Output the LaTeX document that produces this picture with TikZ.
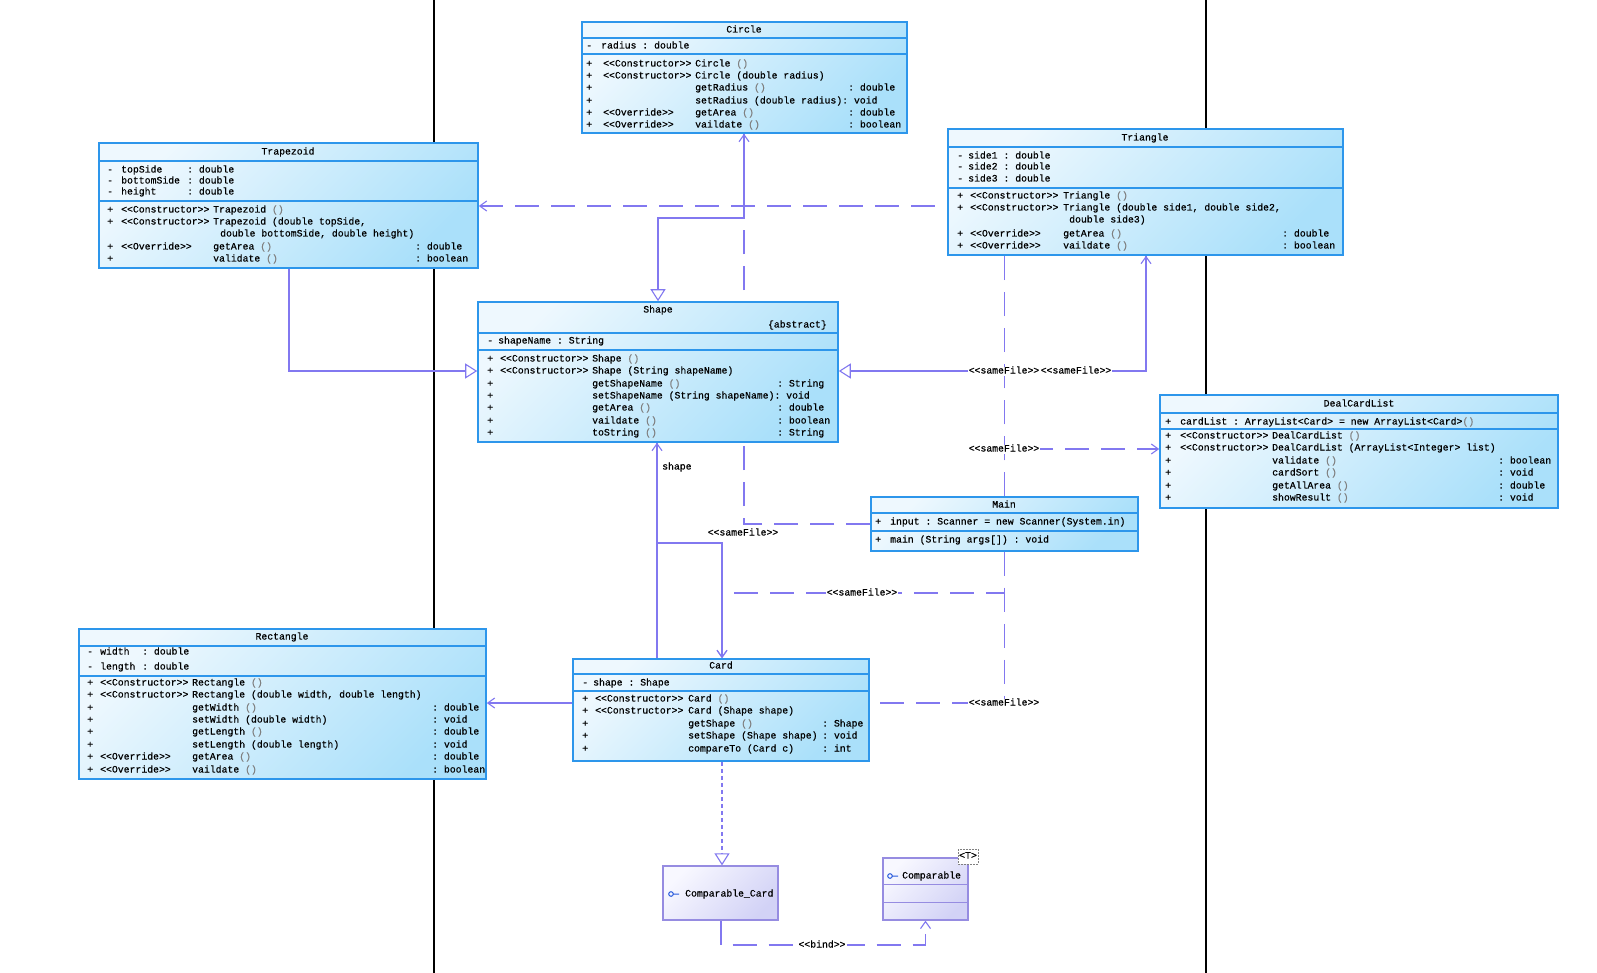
\documentclass[tikz,border=0pt]{standalone}
\usepackage{fontspec}
\setmonofont{Liberation Mono}[FakeBold=0.5]
\usetikzlibrary{arrows.meta,fit,calc}
\pgfdeclarelayer{bg}
\pgfsetlayers{bg,main}
\definecolor{bord}{RGB}{45,150,235}
\definecolor{fillA}{RGB}{238,248,254}
\definecolor{fillB}{RGB}{170,224,250}
\definecolor{conn}{RGB}{130,120,240}
\definecolor{lavB}{RGB}{150,140,225}
\definecolor{lavA}{RGB}{248,248,255}
\definecolor{lavC}{RGB}{210,210,246}
\definecolor{icon}{RGB}{40,90,220}
\newcounter{tn}
\newcommand\tx[3]{\stepcounter{tn}\node[txt,anchor=west] (t\arabic{tn}) at (#1,#2) {#3};}
\newcommand\tc[3]{\stepcounter{tn}\node[txt] (t\arabic{tn}) at (#1,#2) {#3};}
\newcommand\pp{\textcolor{gray}{()}}
\newcommand\cons{<<Constructor>>}
\newcommand\ovr{<<Override>>}
\newcommand\hsep[2]{\draw[sepline] (#1.west |- 0,#2) -- (#1.east |- 0,#2);}
\newcommand\mr[4]{\tx{\cP}{#1}{+}%
  \if\relax\detokenize{#2}\relax\else\tx{\cS}{#1}{#2}\fi
  \tx{\cN}{#1}{#3}%
  \if\relax\detokenize{#4}\relax\else\tx{\cT}{#1}{#4}\fi}
\begin{document}
\begin{tikzpicture}[x=1pt,y=-1pt,
  txt/.style={font=\ttfamily\fontsize{9.8}{12}\selectfont, inner sep=0pt, text height=7pt, text depth=2pt},
  cls/.style={draw=bord, line width=1.6pt, top color=fillA, bottom color=fillB, shading angle=45, inner sep=0pt},
  lav/.style={draw=lavB, line width=1.3pt, top color=lavA, bottom color=lavC, shading angle=45, inner sep=0pt},
  sepline/.style={draw=bord, line width=1.2pt},
  lavline/.style={draw=lavB, line width=1pt},
  cn/.style={draw=conn, line width=1.1pt},
  dep/.style={cn, dash pattern=on 24pt off 12pt},
  dotd/.style={cn, dash pattern=on 4pt off 3pt},
  open/.style={-{Straight Barb[length=7pt,width=10pt]}},
  gen/.style={-{Triangle[open,length=12pt,width=15pt,fill=white]}},
  lbl/.style={txt, fill=white, inner xsep=1pt},
]
\useasboundingbox (0,0) rectangle (1597,973);

% ---------------- Circle
\node[cls, fit={(582,22) (907,133)}] (circle) {};
\tc{744}{30}{Circle}
\hsep{circle}{38}\hsep{circle}{54}
\tx{586}{46}{-}\tx{601}{46}{radius : double}
\def\cP{586}\def\cS{603}\def\cN{695}\def\cT{848}
\mr{64}{\cons}{Circle \pp}{}
\mr{76}{\cons}{Circle (double radius)}{}
\mr{88}{}{getRadius \pp}{: double}
\mr{101}{}{setRadius (double radius): void}{}
\mr{113}{\ovr}{getArea \pp}{: double}
\mr{125}{\ovr}{vaildate \pp}{: boolean}

% ---------------- Trapezoid
\node[cls, fit={(99,143) (478,268)}] (trap) {};
\tc{288}{152}{Trapezoid}
\hsep{trap}{161}\hsep{trap}{201}
\tx{107}{170}{-}\tx{121}{170}{topSide}\tx{187}{170}{: double}
\tx{107}{181}{-}\tx{121}{181}{bottomSide}\tx{187}{181}{: double}
\tx{107}{192}{-}\tx{121}{192}{height}\tx{187}{192}{: double}
\def\cP{107}\def\cS{121}\def\cN{213}\def\cT{415}
\mr{210}{\cons}{Trapezoid \pp}{}
\mr{222}{\cons}{Trapezoid (double topSide,}{}
\tx{220}{234}{double bottomSide, double height)}
\mr{247}{\ovr}{getArea \pp}{: double}
\mr{259}{}{validate \pp}{: boolean}

% ---------------- Triangle
\node[cls, fit={(948,129) (1343,255)}] (tri) {};
\tc{1145}{138}{Triangle}
\hsep{tri}{147}\hsep{tri}{188}
\tx{957}{156}{-}\tx{968}{156}{side1 : double}
\tx{957}{167}{-}\tx{968}{167}{side2 : double}
\tx{957}{179}{-}\tx{968}{179}{side3 : double}
\def\cP{957}\def\cS{970}\def\cN{1063}\def\cT{1282}
\mr{196}{\cons}{Triangle \pp}{}
\mr{208}{\cons}{Triangle (double side1, double side2,}{}
\tx{1069}{220}{double side3)}
\mr{234}{\ovr}{getArea \pp}{: double}
\mr{246}{\ovr}{vaildate \pp}{: boolean}

% ---------------- Shape
\node[cls, fit={(478,302) (838,442)}] (shape) {};
\tc{658}{310}{Shape}
\node[txt,anchor=east] (abs) at (827,325) {\{abstract\}};
\hsep{shape}{333}\hsep{shape}{350}
\tx{487}{341}{-}\tx{498}{341}{shapeName : String}
\def\cP{487}\def\cS{500}\def\cN{592}\def\cT{777}
\mr{359}{\cons}{Shape \pp}{}
\mr{371}{\cons}{Shape (String shapeName)}{}
\mr{384}{}{getShapeName \pp}{: String}
\mr{396}{}{setShapeName (String shapeName): void}{}
\mr{408}{}{getArea \pp}{: double}
\mr{421}{}{vaildate \pp}{: boolean}
\mr{433}{}{toString \pp}{: String}

% ---------------- DealCardList
\node[cls, fit={(1160,395) (1558,508)}] (dcl) {};
\tc{1359}{404}{DealCardList}
\hsep{dcl}{413}\hsep{dcl}{429}
\tx{1165}{422}{+}\tx{1180}{422}{cardList : ArrayList<Card> = new ArrayList<Card>\pp}
\def\cP{1165}\def\cS{1180}\def\cN{1272}\def\cT{1498}
\mr{436}{\cons}{DealCardList \pp}{}
\mr{448}{\cons}{DealCardList (ArrayList<Integer> list)}{}
\mr{461}{}{validate \pp}{: boolean}
\mr{473}{}{cardSort \pp}{: void}
\mr{486}{}{getAllArea \pp}{: double}
\mr{498}{}{showResult \pp}{: void}

% ---------------- Main
\node[cls, fit={(871,497) (1138,551)}] (main) {};
\tc{1004}{505}{Main}
\hsep{main}{513}\hsep{main}{531}
\tx{875}{522}{+}\tx{890}{522}{input : Scanner = new Scanner(System.in)}
\tx{875}{540}{+}\tx{890}{540}{main (String args[]) : void}

% ---------------- Rectangle
\node[cls, fit={(79,629) (486,779)}] (rect) {};
\tc{282}{637}{Rectangle}
\hsep{rect}{646}\hsep{rect}{676}
\tx{87}{652}{-}\tx{100}{652}{width}\tx{142}{652}{: double}
\tx{87}{667}{-}\tx{100}{667}{length}\tx{142}{667}{: double}
\def\cP{87}\def\cS{100}\def\cN{192}\def\cT{432}
\mr{683}{\cons}{Rectangle \pp}{}
\mr{695}{\cons}{Rectangle (double width, double length)}{}
\mr{708}{}{getWidth \pp}{: double}
\mr{720}{}{setWidth (double width)}{: void}
\mr{732}{}{getLength \pp}{: double}
\mr{745}{}{setLength (double length)}{: void}
\mr{757}{\ovr}{getArea \pp}{: double}
\mr{770}{\ovr}{vaildate \pp}{: boolean}

% ---------------- Card
\node[cls, fit={(573,659) (869,761)}] (card) {};
\tc{721}{666}{Card}
\hsep{card}{674}\hsep{card}{691}
\tx{582}{683}{-}\tx{593}{683}{shape : Shape}
\def\cP{582}\def\cS{595}\def\cN{688}\def\cT{822}
\mr{699}{\cons}{Card \pp}{}
\mr{711}{\cons}{Card (Shape shape)}{}
\mr{724}{}{getShape \pp}{: Shape}
\mr{736}{}{setShape (Shape shape)}{: void}
\mr{749}{}{compareTo (Card c)}{: int}

% ---------------- Comparable_Card / Comparable
\node[lav, fit={(663,866) (778,920)}] (ccard) {};
\draw[icon, line width=1pt] (671,894) circle[radius=2.3pt] (673.3,894) -- (679,894);
\tx{685}{894}{Comparable\_Card}
\node[lav, fit={(883,858) (968,920)}] (comp) {};
\draw[lavline] (comp.west |- 0,884) -- (comp.east |- 0,884);
\draw[lavline] (comp.west |- 0,902) -- (comp.east |- 0,902);
\draw[icon, line width=1pt] (890,876) circle[radius=2.3pt] (892.3,876) -- (898,876);
\tx{902}{876}{Comparable}
\draw[gray, dash pattern=on 2pt off 1pt, line width=0.6pt, fill=white] (958,849) rectangle (978,864);
\tc{968}{856}{<T>}

% ---------------- labels
\node[lbl] (s1) at (1004,371) {<<sameFile>>};
\node[lbl] (s2) at (1076,371) {<<sameFile>>};
\node[lbl] (s3) at (1004,449) {<<sameFile>>};
\node[lbl] (s4) at (743,533) {<<sameFile>>};
\node[lbl] (s5) at (862,593) {<<sameFile>>};
\node[lbl] (s6) at (1004,703) {<<sameFile>>};
\node[lbl] (s7) at (822,945) {<<bind>>};
\node[txt,anchor=west] (role) at (662,467) {shape};

% ---------------- connectors (behind boxes)
\begin{pgfonlayer}{bg}
\fill[white] (0,0) rectangle (1597,973);
\coordinate (v1t) at (434,0); \coordinate (v1b) at (434,973);
\coordinate (v2t) at (1206,0); \coordinate (v2b) at (1206,973);
\draw[black, line width=1.3pt] (v1t) -- (v1b);
\draw[black, line width=1.3pt] (v2t) -- (v2b);
% generalizations
\draw[cn,gen] (289,0 |- trap.south) -- (289,371) -- (shape.west |- 0,371);
\draw[cn,gen] (744,0 |- circle.south) -- (744,218) -- (658,218) -- (658,0 |- shape.north);
\draw[cn,gen] (1146,0 |- tri.south) -- (1146,371) -- (shape.east |- 0,371);
% dependencies from Main
\draw[dep,open] (main.west) -- (744,0 |- main.west) -- (744,0 |- circle.south);
\draw[dep,open] (main.north) -- (1004.5,371) -- (1146,371) -- (1146,0 |- tri.south);
\draw[dep,open] (main.north) -- (1004.5,206) -- (trap.east |- 0,206);
\draw[dep,open] (main.north) -- (1004.5,449) -- (dcl.west |- 0,449);
\draw[dep,open] (main.south) -- (1004.5,593) -- (722,593) -- (722,0 |- card.north);
\draw[dep] (main.south) -- (1004.5,703) -- (card.east |- 0,703);
% associations
\draw[cn,open] (card.west |- 0,703) -- (rect.east |- 0,703);
\draw[cn,open] (657,0 |- card.north) -- (657,0 |- shape.south);
\draw[cn,open] (657,0 |- shape.south) -- (657,543) -- (722,543) -- (722,0 |- card.north);
% realization and bind
\draw[dotd,gen] (722,0 |- card.south) -- (722,0 |- ccard.north);
\draw[dep,open] (721,0 |- ccard.south) -- (721,945) -- (925.5,945) -- (925.5,0 |- comp.south);
\end{pgfonlayer}
\end{tikzpicture}
\end{document}
